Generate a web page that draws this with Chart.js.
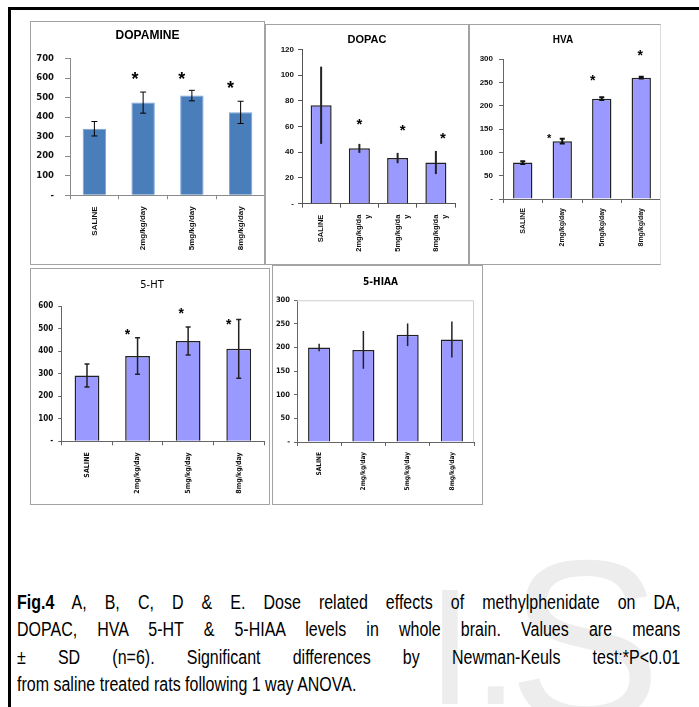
<!DOCTYPE html>
<html>
<head>
<meta charset="utf-8">
<script src="https://cdn.jsdelivr.net/npm/chart.js@4"></script>
<style>
body{margin:0;background:#fff;width:699px;height:707px;overflow:hidden;position:relative;font-family:"Liberation Sans",Arial,sans-serif}
.fr-t{position:absolute;left:8px;top:7px;right:0;height:3px;background:#000}
.fr-l{position:absolute;left:8px;top:7px;bottom:0;width:3px;background:#000}
.panel{position:absolute;box-sizing:border-box;border:1.5px solid #a3a3a3}
canvas{position:absolute}
.wm{position:absolute;font-family:"Liberation Sans",Arial,sans-serif;color:#ededed;white-space:nowrap}
#cap{position:absolute;left:17px;top:589px;width:829px;font-size:20px;line-height:27.4px;color:#000;transform:scaleX(0.8);transform-origin:0 0}
#cap div{text-align:justify;text-align-last:justify;white-space:nowrap}
#cap div.last{text-align-last:left}
</style>
</head>
<body>
<div class="wm" style="left:427px;top:565px;font-size:165px;line-height:165px">I.</div>
<div class="wm" style="left:508px;top:527px;font-size:230px;line-height:230px">S</div>
<div class="fr-t"></div>
<div class="fr-l"></div>

<canvas id="c1"></canvas>
<canvas id="c2"></canvas>
<canvas id="c3"></canvas>
<canvas id="c4"></canvas>
<canvas id="c5"></canvas>

<div class="panel" style="left:30px;top:21px;width:235px;height:244px"></div>
<div class="panel" style="left:265px;top:24px;width:204px;height:241px"></div>
<div class="panel" style="left:469px;top:24px;width:192px;height:241px;border-right-color:#dcdcdc"></div>
<div class="panel" style="left:30px;top:268px;width:240px;height:237px"></div>
<div class="panel" style="left:272px;top:265px;width:211px;height:240px"></div>

<div id="cap">
<div><b>Fig.4</b> A, B, C, D &amp; E. Dose related effects of methylphenidate on DA,</div>
<div>DOPAC, HVA 5-HT &amp; 5-HIAA levels in whole brain. Values are means</div>
<div>± SD (n=6). Significant differences by Newman-Keuls test:*P&lt;0.01</div>
<div class="last">from saline treated rats following 1 way ANOVA.</div>
</div>

<script>
// categories
var groups = ['SALINE', '2mg/kg/day', '5mg/kg/day', '8mg/kg/day'];
var groupsWrapped = ['SALINE', ['2mg/kg/da', 'y'], ['5mg/kg/da', 'y'], ['8mg/kg/da', 'y']];

// A - dopamine
var daMean = [341, 475, 511, 425];
var daSD = [37, 54, 27, 57];
var daStar = [null, 616, 616, 573];

// B - DOPAC
var dopacMean = [76.5, 43, 35.5, 32];
var dopacSD = [30, 3.5, 4, 9];
var dopacStar = [null, 65, 60, 54];

// C - HVA
var hvaMean = [78, 124, 215, 260];
var hvaSD = [3, 5, 3, 2];
var hvaStar = [null, 135, 262, 316];

// D - 5-HT
var htMean = [292, 378, 445, 410];
var htSD = [51, 81, 62, 130];
var htStar = [null, 488, 584, 532];

// E - 5-HIAA
var hiaaMean = [200, 195, 227, 217];
var hiaaSD = [8, 40, 24, 38];
var hiaaStar = [null, null, null, null];

var narrow = '"Liberation Sans Narrow", "DejaVu Sans Condensed", "Arial Narrow", sans-serif';

// error bars, asterisks and the panel title
var extras = {
	id: 'extras',
	afterDatasetsDraw: function(chart, args, o){
		var ctx = chart.ctx;
		var y = chart.scales.y;
		var area = chart.chartArea;
		var meta = chart.getDatasetMeta(0);
		ctx.save();
		if(o.frame){
			// light plot-area border, top and right only
			ctx.strokeStyle = o.frame;
			ctx.lineWidth = 1;
			ctx.beginPath();
			ctx.moveTo(area.left, area.top + 0.5);
			ctx.lineTo(area.right - 0.5, area.top + 0.5);
			ctx.lineTo(area.right - 0.5, area.bottom);
			ctx.stroke();
		}
		ctx.strokeStyle = o.errColor;
		ctx.lineWidth = o.errWidth;
		meta.data.forEach(function(bar, i){
			var top = y.getPixelForValue(o.mean[i] + o.sd[i]);
			var bot = y.getPixelForValue(o.mean[i] - o.sd[i]);
			ctx.beginPath();
			ctx.moveTo(bar.x, top);
			ctx.lineTo(bar.x, bot);
			if(o.cap){
				ctx.moveTo(bar.x - o.cap, top); ctx.lineTo(bar.x + o.cap, top);
				ctx.moveTo(bar.x - o.cap, bot); ctx.lineTo(bar.x + o.cap, bot);
			}
			ctx.stroke();
			if(o.star[i] != null){
				var fs = o.starSize[i];
				ctx.fillStyle = '#000';
				ctx.font = 'bold ' + fs + 'px "Liberation Sans", Arial, sans-serif';
				ctx.textAlign = 'center';
				ctx.textBaseline = 'alphabetic';
				ctx.fillText('*', bar.x + o.starDx[i], y.getPixelForValue(o.star[i]) + fs * 0.57);
			}
		});
		ctx.fillStyle = '#000';
		ctx.font = o.titleFont;
		ctx.textAlign = 'center';
		ctx.textBaseline = 'middle';
		ctx.fillText(o.title, chart.width / 2 + o.titleDx, o.titleY);
		ctx.restore();
	}
};

function makeChart(p){
	var el = document.getElementById(p.id);
	el.width = p.w; el.height = p.h;
	el.style.left = p.x + 'px'; el.style.top = p.y + 'px';
	el.style.width = p.w + 'px'; el.style.height = p.h + 'px';
	return new Chart(el, {
		type: 'bar',
		data: {
			labels: p.labels,
			datasets: [{
				data: p.mean,
				backgroundColor: p.fill,
				borderColor: p.border,
				borderWidth: p.borderWidth,
				barPercentage: p.barPct,
				categoryPercentage: 1
			}]
		},
		plugins: [extras],
		options: {
			responsive: false,
			animation: false,
			devicePixelRatio: 1,
			layout: { padding: { top: p.padTop, right: p.padRight, left: 0, bottom: 0 } },
			plugins: {
				legend: { display: false },
				tooltip: { enabled: false },
				extras: {
					mean: p.mean, sd: p.sd, star: p.star, starDx: p.starDx, starSize: p.starSize,
					errColor: p.errColor, errWidth: p.errWidth, cap: p.cap, frame: p.frame,
					title: p.title, titleFont: p.titleFont, titleY: p.titleY, titleDx: p.titleDx
				}
			},
			scales: {
				x: {
					afterFit: function(s){ s.height = p.xHeight; },
					border: { color: p.axisColor, width: 1 },
					grid: { drawOnChartArea: false, color: p.axisColor, tickLength: 4 },
					ticks: {
						autoSkip: false, minRotation: 90, maxRotation: 90, padding: p.xPad,
						color: '#111', font: p.xFont
					}
				},
				y: {
					min: 0, max: p.yMax,
					afterFit: function(s){ s.width = p.yWidth; },
					border: { color: p.axisColor, width: 1 },
					grid: { drawOnChartArea: false, color: p.axisColor, tickLength: p.yTick },
					ticks: {
						stepSize: p.yStep, padding: p.yPad, color: '#111', font: p.yFont,
						callback: function(v){ return v === 0 ? '-' : v; }
					}
				}
			}
		}
	});
}

makeChart({
	id: 'c1', x: 30, y: 21, w: 235, h: 244,
	labels: groups, mean: daMean, sd: daSD, star: daStar,
	starDx: [0, -8, -10, -10], starSize: [18, 18, 18, 18],
	fill: '#4a7ebb', border: '#7aa3d6', borderWidth: 1, barPct: 0.48,
	errColor: '#000', errWidth: 1, cap: 3,
	title: 'DOPAMINE', titleFont: 'bold 12px "Liberation Sans", Arial, sans-serif', titleY: 15, titleDx: 0,
	padTop: 37.7, padRight: 0, yWidth: 40, xHeight: 69.7,
	yMax: 700, yStep: 100, yTick: 5, yPad: 11, xPad: 7,
	axisColor: '#8a8a8a',
	yFont: { family: '"DejaVu Sans", sans-serif', size: 8.5, weight: 'bold' },
	xFont: { family: '"Liberation Sans", Arial, sans-serif', size: 8, weight: 'bold' }
});

makeChart({
	id: 'c2', x: 265, y: 24, w: 204, h: 241,
	labels: groupsWrapped, mean: dopacMean, sd: dopacSD, star: dopacStar,
	starDx: [0, 0, 5, 7], starSize: [15, 15, 15, 15],
	fill: '#9999ff', border: '#222', borderWidth: 1.5, barPct: 0.55,
	errColor: '#222', errWidth: 2, cap: 0,
	title: 'DOPAC', titleFont: 'bold 11px "Liberation Sans", Arial, sans-serif', titleY: 16, titleDx: 0,
	padTop: 25.3, padRight: 14, yWidth: 37, xHeight: 61.3,
	yMax: 120, yStep: 20, yTick: 4, yPad: 4, xPad: 7,
	axisColor: '#555',
	yFont: { family: '"Liberation Sans", Arial, sans-serif', size: 8, weight: 'bold' },
	xFont: { family: '"Liberation Sans", Arial, sans-serif', size: 7.5, weight: 'bold' }
});

makeChart({
	id: 'c3', x: 469, y: 24, w: 192, h: 241,
	labels: groups, mean: hvaMean, sd: hvaSD, star: hvaStar,
	starDx: [0, -13, -9, -1], starSize: [11, 11, 14, 14],
	fill: '#9999ff', border: '#222', borderWidth: 1.5, barPct: 0.49,
	errColor: '#111', errWidth: 2, cap: 2.5,
	title: 'HVA', titleFont: 'bold 10px "Liberation Sans", Arial, sans-serif', titleY: 16, titleDx: -2,
	padTop: 35, padRight: 0, yWidth: 34, xHeight: 66,
	yMax: 300, yStep: 50, yTick: 4, yPad: 6, xPad: 5,
	axisColor: '#666',
	yFont: { family: '"Liberation Sans", Arial, sans-serif', size: 8, weight: 'bold' },
	xFont: { family: '"Liberation Sans", Arial, sans-serif', size: 7, weight: 'bold' }
});

makeChart({
	id: 'c4', x: 30, y: 268, w: 240, h: 237,
	labels: groups, mean: htMean, sd: htSD, star: htStar,
	starDx: [0, -10, -7, -10], starSize: [14, 14, 14, 14],
	fill: '#9999ff', border: '#222', borderWidth: 1.5, barPct: 0.49,
	errColor: '#222', errWidth: 1.5, cap: 2.5,
	title: '5-HT', titleFont: '11px ' + narrow, titleY: 17, titleDx: 2,
	padTop: 38, padRight: 6, yWidth: 31.7, xHeight: 63.7,
	yMax: 600, yStep: 100, yTick: 3.5, yPad: 5, xPad: 7,
	axisColor: '#666',
	yFont: { family: narrow, size: 8, weight: 'bold' },
	xFont: { family: narrow, size: 7, weight: 'bold' }
});

makeChart({
	id: 'c5', x: 272, y: 265, w: 211, h: 240,
	labels: groups, mean: hiaaMean, sd: hiaaSD, star: hiaaStar,
	starDx: [0, 0, 0, 0], starSize: [14, 14, 14, 14],
	fill: '#9999ff', border: '#222', borderWidth: 1.5, barPct: 0.5,
	errColor: '#222', errWidth: 1.5, cap: 0, frame: '#cfcfcf',
	title: '5-HIAA', titleFont: 'bold 10px ' + narrow, titleY: 17, titleDx: 3,
	padTop: 35.3, padRight: 9, yWidth: 25, xHeight: 63,
	yMax: 300, yStep: 50, yTick: 3, yPad: 4, xPad: 6,
	axisColor: '#666',
	yFont: { family: narrow, size: 7.5, weight: 'bold' },
	xFont: { family: narrow, size: 6.5, weight: 'bold' }
});
</script>
</body>
</html>
